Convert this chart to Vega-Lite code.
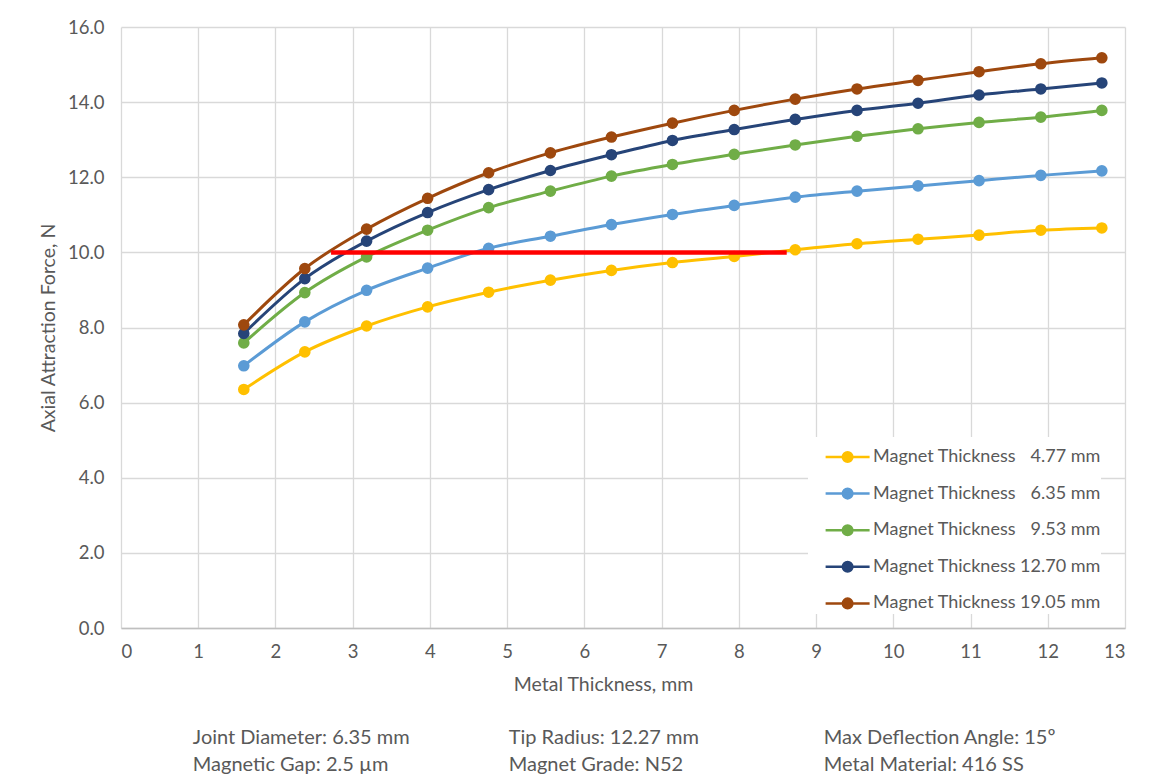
{
  "$schema": "https://vega.github.io/schema/vega-lite/v6.json",
  "width": 1004,
  "height": 601,
  "autosize": "none",
  "padding": {"left": 121, "top": 27, "right": 36, "bottom": 148},
  "background": "white",
  "config": {
    "font": "Lato",
    "view": {"stroke": null},
    "axis": {
      "grid": true,
      "gridColor": "#d9d9d9",
      "gridWidth": 1.3,
      "ticks": false,
      "labelFont": "Lato",
      "labelFontSize": 18.5,
      "labelColor": "#595959",
      "titleFont": "Lato",
      "titleFontSize": 19.5,
      "titleFontWeight": "normal",
      "titleColor": "#595959"
    }
  },
  "layer": [
    {
      "data": {
        "values": [
          {"metal": 1.59, "magnet": "Magnet Thickness \u20074.77 mm", "force": 6.35},
          {"metal": 2.38, "magnet": "Magnet Thickness \u20074.77 mm", "force": 7.35},
          {"metal": 3.18, "magnet": "Magnet Thickness \u20074.77 mm", "force": 8.04},
          {"metal": 3.97, "magnet": "Magnet Thickness \u20074.77 mm", "force": 8.55},
          {"metal": 4.76, "magnet": "Magnet Thickness \u20074.77 mm", "force": 8.94},
          {"metal": 5.56, "magnet": "Magnet Thickness \u20074.77 mm", "force": 9.26},
          {"metal": 6.35, "magnet": "Magnet Thickness \u20074.77 mm", "force": 9.52},
          {"metal": 7.14, "magnet": "Magnet Thickness \u20074.77 mm", "force": 9.73},
          {"metal": 7.94, "magnet": "Magnet Thickness \u20074.77 mm", "force": 9.89},
          {"metal": 8.73, "magnet": "Magnet Thickness \u20074.77 mm", "force": 10.07},
          {"metal": 9.53, "magnet": "Magnet Thickness \u20074.77 mm", "force": 10.23},
          {"metal": 10.32, "magnet": "Magnet Thickness \u20074.77 mm", "force": 10.35},
          {"metal": 11.11, "magnet": "Magnet Thickness \u20074.77 mm", "force": 10.46},
          {"metal": 11.91, "magnet": "Magnet Thickness \u20074.77 mm", "force": 10.59},
          {"metal": 12.7, "magnet": "Magnet Thickness \u20074.77 mm", "force": 10.65},
          {"metal": 1.59, "magnet": "Magnet Thickness \u20076.35 mm", "force": 6.98},
          {"metal": 2.38, "magnet": "Magnet Thickness \u20076.35 mm", "force": 8.15},
          {"metal": 3.18, "magnet": "Magnet Thickness \u20076.35 mm", "force": 8.99},
          {"metal": 3.97, "magnet": "Magnet Thickness \u20076.35 mm", "force": 9.58},
          {"metal": 4.76, "magnet": "Magnet Thickness \u20076.35 mm", "force": 10.11},
          {"metal": 5.56, "magnet": "Magnet Thickness \u20076.35 mm", "force": 10.43},
          {"metal": 6.35, "magnet": "Magnet Thickness \u20076.35 mm", "force": 10.74},
          {"metal": 7.14, "magnet": "Magnet Thickness \u20076.35 mm", "force": 11.01},
          {"metal": 7.94, "magnet": "Magnet Thickness \u20076.35 mm", "force": 11.25},
          {"metal": 8.73, "magnet": "Magnet Thickness \u20076.35 mm", "force": 11.47},
          {"metal": 9.53, "magnet": "Magnet Thickness \u20076.35 mm", "force": 11.63},
          {"metal": 10.32, "magnet": "Magnet Thickness \u20076.35 mm", "force": 11.77},
          {"metal": 11.11, "magnet": "Magnet Thickness \u20076.35 mm", "force": 11.91},
          {"metal": 11.91, "magnet": "Magnet Thickness \u20076.35 mm", "force": 12.05},
          {"metal": 12.7, "magnet": "Magnet Thickness \u20076.35 mm", "force": 12.17},
          {"metal": 1.59, "magnet": "Magnet Thickness \u20079.53 mm", "force": 7.59},
          {"metal": 2.38, "magnet": "Magnet Thickness \u20079.53 mm", "force": 8.93},
          {"metal": 3.18, "magnet": "Magnet Thickness \u20079.53 mm", "force": 9.88},
          {"metal": 3.97, "magnet": "Magnet Thickness \u20079.53 mm", "force": 10.59},
          {"metal": 4.76, "magnet": "Magnet Thickness \u20079.53 mm", "force": 11.19},
          {"metal": 5.56, "magnet": "Magnet Thickness \u20079.53 mm", "force": 11.63},
          {"metal": 6.35, "magnet": "Magnet Thickness \u20079.53 mm", "force": 12.03},
          {"metal": 7.14, "magnet": "Magnet Thickness \u20079.53 mm", "force": 12.34},
          {"metal": 7.94, "magnet": "Magnet Thickness \u20079.53 mm", "force": 12.61},
          {"metal": 8.73, "magnet": "Magnet Thickness \u20079.53 mm", "force": 12.86},
          {"metal": 9.53, "magnet": "Magnet Thickness \u20079.53 mm", "force": 13.09},
          {"metal": 10.32, "magnet": "Magnet Thickness \u20079.53 mm", "force": 13.29},
          {"metal": 11.11, "magnet": "Magnet Thickness \u20079.53 mm", "force": 13.46},
          {"metal": 11.91, "magnet": "Magnet Thickness \u20079.53 mm", "force": 13.6},
          {"metal": 12.7, "magnet": "Magnet Thickness \u20079.53 mm", "force": 13.78},
          {"metal": 1.59, "magnet": "Magnet Thickness 12.70 mm", "force": 7.84},
          {"metal": 2.38, "magnet": "Magnet Thickness 12.70 mm", "force": 9.3},
          {"metal": 3.18, "magnet": "Magnet Thickness 12.70 mm", "force": 10.3},
          {"metal": 3.97, "magnet": "Magnet Thickness 12.70 mm", "force": 11.06},
          {"metal": 4.76, "magnet": "Magnet Thickness 12.70 mm", "force": 11.67},
          {"metal": 5.56, "magnet": "Magnet Thickness 12.70 mm", "force": 12.18},
          {"metal": 6.35, "magnet": "Magnet Thickness 12.70 mm", "force": 12.6},
          {"metal": 7.14, "magnet": "Magnet Thickness 12.70 mm", "force": 12.98},
          {"metal": 7.94, "magnet": "Magnet Thickness 12.70 mm", "force": 13.27},
          {"metal": 8.73, "magnet": "Magnet Thickness 12.70 mm", "force": 13.54},
          {"metal": 9.53, "magnet": "Magnet Thickness 12.70 mm", "force": 13.78},
          {"metal": 10.32, "magnet": "Magnet Thickness 12.70 mm", "force": 13.97},
          {"metal": 11.11, "magnet": "Magnet Thickness 12.70 mm", "force": 14.19},
          {"metal": 11.91, "magnet": "Magnet Thickness 12.70 mm", "force": 14.35},
          {"metal": 12.7, "magnet": "Magnet Thickness 12.70 mm", "force": 14.51},
          {"metal": 1.59, "magnet": "Magnet Thickness 19.05 mm", "force": 8.07},
          {"metal": 2.38, "magnet": "Magnet Thickness 19.05 mm", "force": 9.57},
          {"metal": 3.18, "magnet": "Magnet Thickness 19.05 mm", "force": 10.62},
          {"metal": 3.97, "magnet": "Magnet Thickness 19.05 mm", "force": 11.44},
          {"metal": 4.76, "magnet": "Magnet Thickness 19.05 mm", "force": 12.12},
          {"metal": 5.56, "magnet": "Magnet Thickness 19.05 mm", "force": 12.65},
          {"metal": 6.35, "magnet": "Magnet Thickness 19.05 mm", "force": 13.07},
          {"metal": 7.14, "magnet": "Magnet Thickness 19.05 mm", "force": 13.44},
          {"metal": 7.94, "magnet": "Magnet Thickness 19.05 mm", "force": 13.78},
          {"metal": 8.73, "magnet": "Magnet Thickness 19.05 mm", "force": 14.08},
          {"metal": 9.53, "magnet": "Magnet Thickness 19.05 mm", "force": 14.35},
          {"metal": 10.32, "magnet": "Magnet Thickness 19.05 mm", "force": 14.58},
          {"metal": 11.11, "magnet": "Magnet Thickness 19.05 mm", "force": 14.81},
          {"metal": 11.91, "magnet": "Magnet Thickness 19.05 mm", "force": 15.02},
          {"metal": 12.7, "magnet": "Magnet Thickness 19.05 mm", "force": 15.18}
        ]
      },
      "encoding": {
        "x": {
          "field": "metal",
          "type": "quantitative",
          "scale": {"domain": [0, 13], "nice": false, "zero": false},
          "axis": {
            "values": [0, 1, 2, 3, 4, 5, 6, 7, 8, 9, 10, 11, 12, 13],
            "format": "d",
            "domain": true,
            "domainColor": "#bfbfbf",
            "domainWidth": 1.3,
            "labelPadding": 14,
            "title": "Metal Thickness, mm",
            "titleX": 482,
            "titleY": 56,
            "titleBaseline": "middle"
          }
        },
        "y": {
          "field": "force",
          "type": "quantitative",
          "scale": {"domain": [0, 16], "nice": false, "zero": false},
          "axis": {
            "values": [0, 2, 4, 6, 8, 10, 12, 14, 16],
            "format": ".1f",
            "domain": false,
            "labelPadding": 17,
            "title": "Axial Attraction Force, N",
            "titleX": -73,
            "titleY": 300.5,
            "titleAngle": -90,
            "titleAlign": "center",
            "titleBaseline": "middle"
          }
        },
        "color": {
          "field": "magnet",
          "type": "nominal",
          "sort": null,
          "scale": {
            "domain": [
              "Magnet Thickness \u20074.77 mm",
              "Magnet Thickness \u20076.35 mm",
              "Magnet Thickness \u20079.53 mm",
              "Magnet Thickness 12.70 mm",
              "Magnet Thickness 19.05 mm"
            ],
            "range": ["#FFC000", "#5B9BD5", "#70AD47", "#264478", "#9E480E"]
          },
          "legend": {
            "title": null,
            "orient": "none",
            "legendX": 687,
            "legendY": 410,
            "padding": 0,
            "rowPadding": 6.6,
            "fillColor": "white",
            "symbolType": "M-0.13,0L2.26,0M0.805,0A0.26,0.26,0,1,1,1.325,0A0.26,0.26,0,1,1,0.805,0Z",
            "symbolSize": 1355,
            "symbolStrokeWidth": 2.5,
            "labelOffset": 25,
            "labelFont": "Lato",
            "labelFontSize": 18,
            "labelColor": "#595959",
            "labelLimit": 400,
            "encode": {
              "symbols": {
                "update": {
                  "fill": {"scale": "color", "field": "value"},
                  "stroke": {"scale": "color", "field": "value"},
                  "opacity": {"value": 1},
                  "strokeWidth": {"value": 2.5}
                }
              }
            }
          }
        }
      },
      "layer": [
        {"mark": {"type": "line", "interpolate": "monotone", "strokeWidth": 3}},
        {"mark": {"type": "point", "filled": true, "opacity": 1, "size": 135}}
      ]
    },
    {
      "data": {"values": [{"from": 2.72, "to": 8.62, "force": 10}]},
      "mark": {"type": "rule", "color": "#FF0000", "strokeWidth": 4.5},
      "encoding": {
        "x": {"field": "from", "type": "quantitative"},
        "x2": {"field": "to"},
        "y": {"field": "force", "type": "quantitative"}
      }
    },
    {
      "data": {"values": [{}]},
      "mark": {"type": "text", "text": ["Joint Diameter: 6.35 mm", "Magnetic Gap: 2.5 µm"], "align": "left", "baseline": "alphabetic", "fontSize": 20, "lineHeight": 26.5, "color": "#595959", "font": "Lato"},
      "encoding": {"x": {"datum": 0.93}, "y": {"datum": -3.1}}
    },
    {
      "data": {"values": [{}]},
      "mark": {"type": "text", "text": ["Tip Radius: 12.27 mm", "Magnet Grade: N52"], "align": "left", "baseline": "alphabetic", "fontSize": 20, "lineHeight": 26.5, "color": "#595959", "font": "Lato"},
      "encoding": {"x": {"datum": 5.02}, "y": {"datum": -3.1}}
    },
    {
      "data": {"values": [{}]},
      "mark": {"type": "text", "text": ["Max Deflection Angle: 15º", "Metal Material: 416 SS"], "align": "left", "baseline": "alphabetic", "fontSize": 20, "lineHeight": 26.5, "color": "#595959", "font": "Lato"},
      "encoding": {"x": {"datum": 9.1}, "y": {"datum": -3.1}}
    }
  ]
}
